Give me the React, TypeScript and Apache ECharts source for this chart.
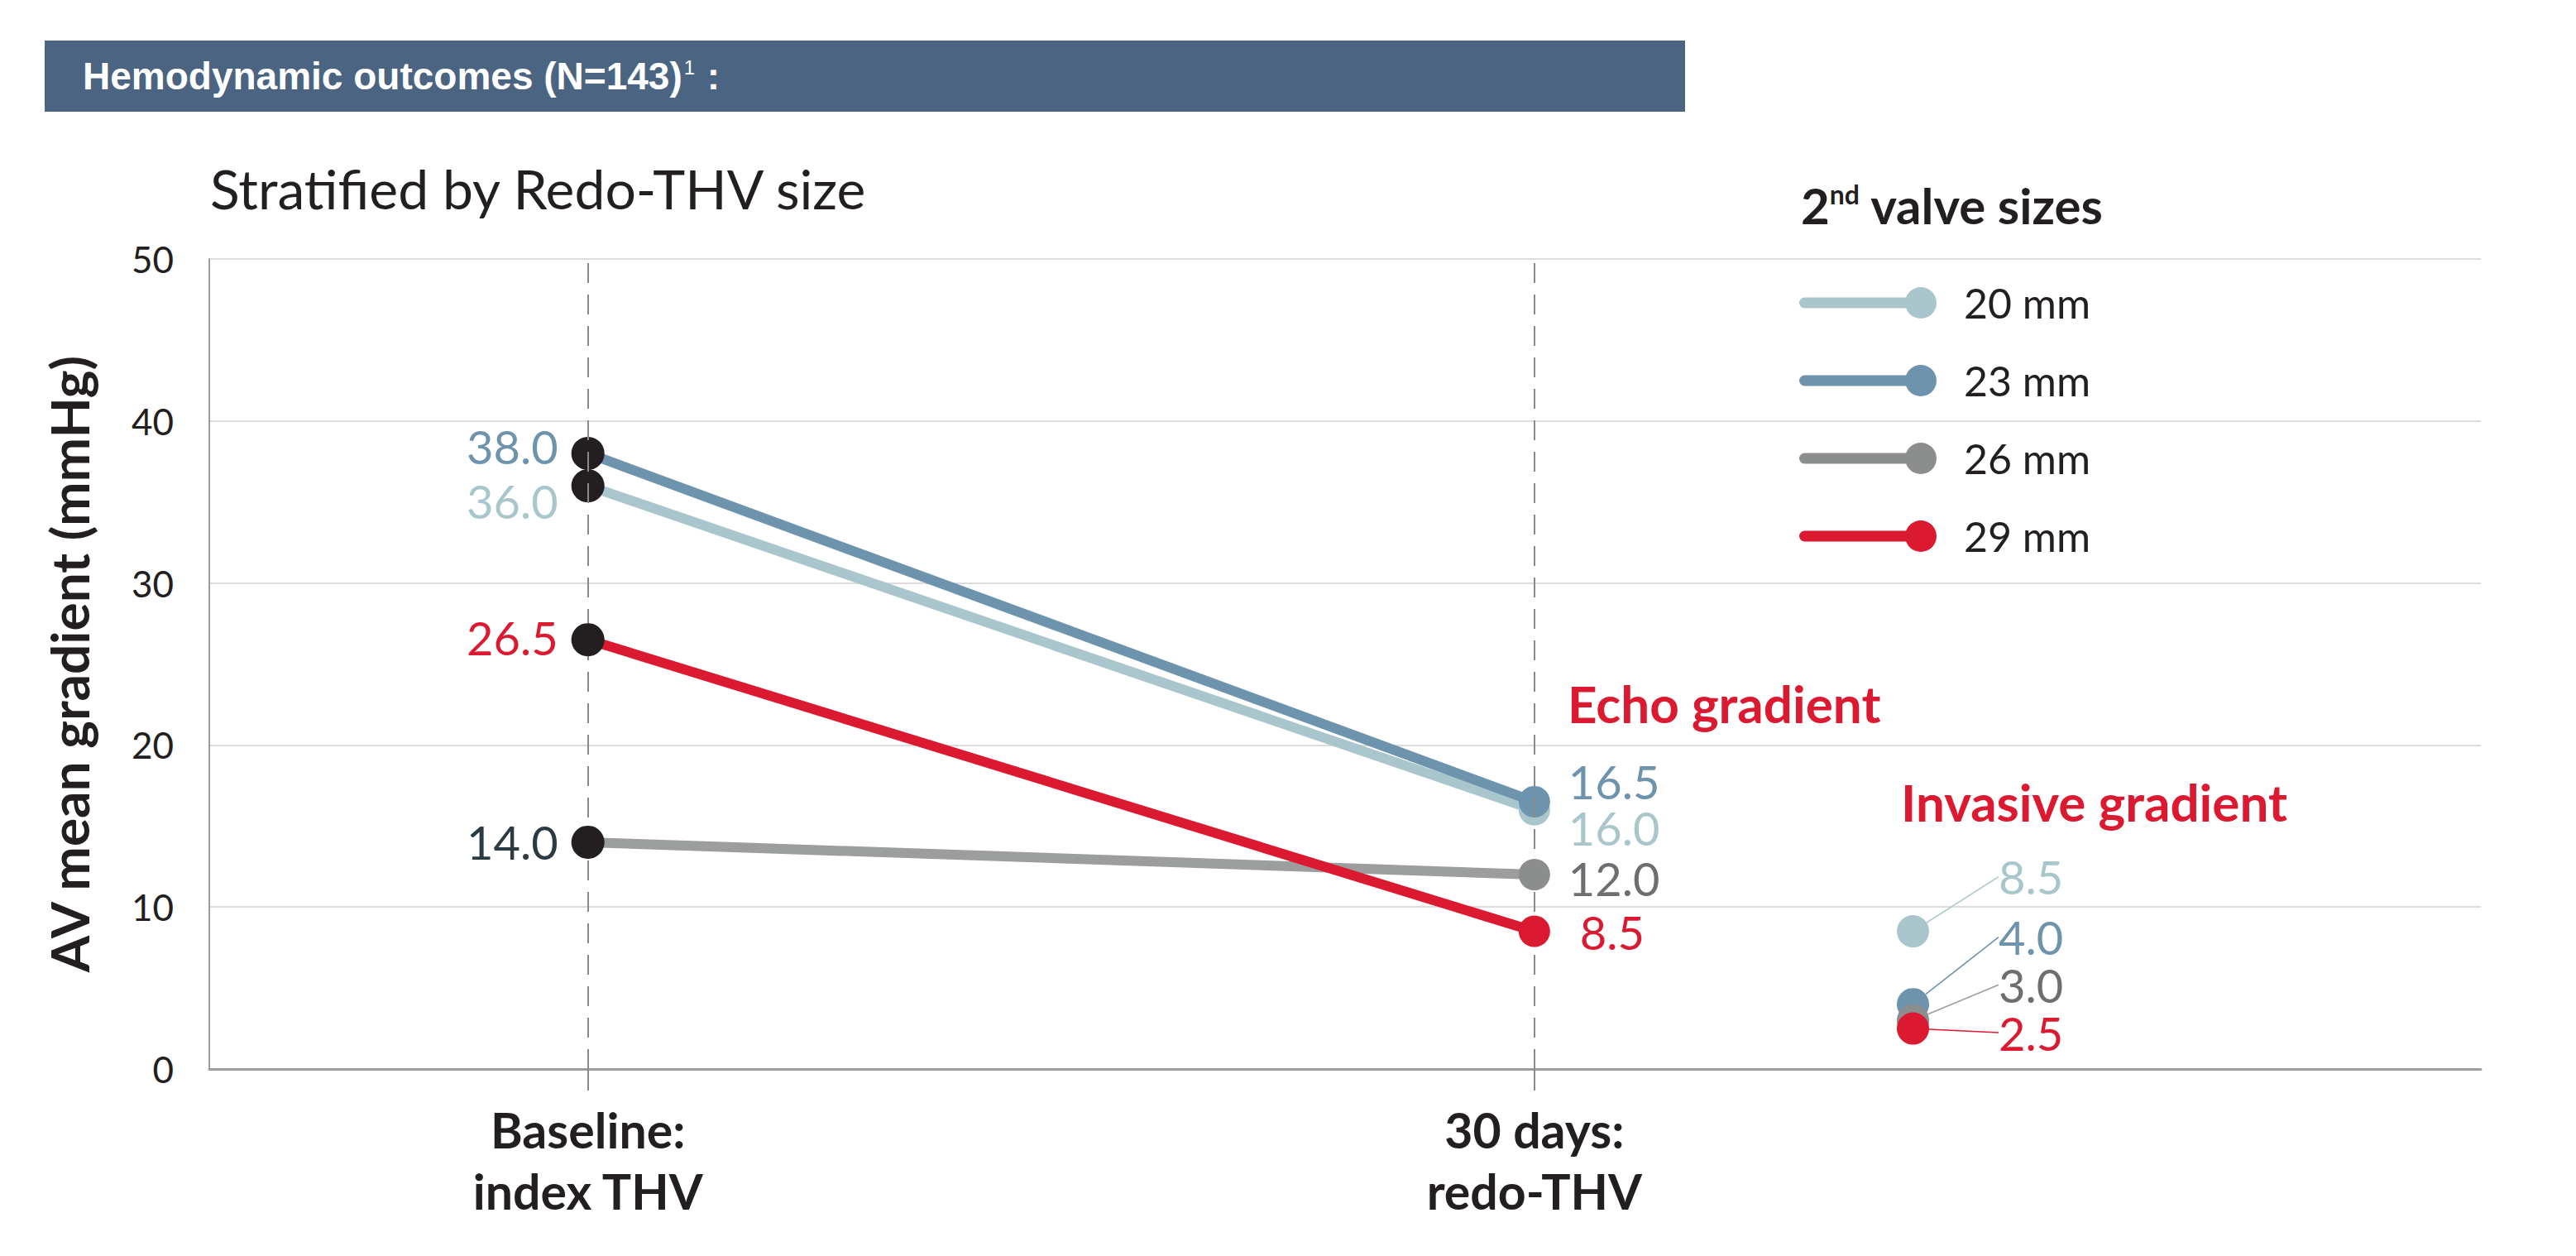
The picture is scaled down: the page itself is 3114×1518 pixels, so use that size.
import React, { useEffect, useRef } from "react";
import * as echarts from "echarts";

const categories = ["Baseline:\nindex THV", "30 days:\nredo-THV"];
const categoryX = [1, 3.5];
const invasiveX = 4.5;
const sizes = ["20 mm", "23 mm", "26 mm", "29 mm"];
const baselineValues = [36.0, 38.0, 14.0, 26.5];
const day30Values = [16.0, 16.5, 12.0, 8.5];
const invasiveValues = [8.5, 4.0, 3.0, 2.5];
const yTicks = [0, 10, 20, 30, 40, 50];

const lineColors = ["#A9C6CC", "#6E93AD", "#9C9E9D", "#DB1A31"];
const pointColors = ["#A9C6CC", "#6E93AD", "#8C8E8E", "#DB1A31"];
const baseLabelColors = ["#A9C6CC", "#6E93AD", "#2A3B43", "#DB1A31"];
const dayLabelColors = ["#A9C6CC", "#6E93AD", "#6D6E71", "#DB1A31"];
const baseLabelOffsets = [[0, 18], [0, -8], [0, 0], [0, -3]];
const dayLabelOffsets = [[0, 22], [0, -24], [0, 4], [14, 1]];
const invLayouts = [
  { dx: 80, dy: -66 },
  { dx: 80, dy: -81 },
  { dx: 80, dy: -43 },
  { dx: 80, dy: 5 },
];

const FONT = "Lato";
const DARK = "#231F20";

const ICON =
  "path://M6.5,12.5L147,12.5L147,25.5L6.5,25.5A6.5,6.5 0 0 1 6.5,12.5ZM147,0A19,19 0 1 1 147,38A19,19 0 1 1 147,0Z";

export default function App() {
  const ref = useRef<HTMLDivElement>(null);
  useEffect(() => {
    if (!ref.current) return;
    const chart = echarts.init(ref.current, null, { renderer: "svg" });
    const fmt = (p: any) => Number(p.value[1]).toFixed(1);

    const lineSeries = sizes.map((name, i) => ({
      name,
      type: "line",
      z: 3 + i,
      color: lineColors[i],
      symbol: "circle",
      symbolSize: 40,
      lineStyle: { width: 12, color: lineColors[i] },
      itemStyle: { color: pointColors[i] },
      label: {
        show: true,
        fontFamily: FONT,
        fontSize: 56,
        lineHeight: 46,
        formatter: fmt,
      },
      data: [
        {
          value: [categoryX[0], baselineValues[i]],
          itemStyle: { color: DARK },
          label: {
            position: "left",
            distance: 16,
            offset: baseLabelOffsets[i],
            color: baseLabelColors[i],
          },
        },
        {
          value: [categoryX[1], day30Values[i]],
          symbolSize: 38,
          itemStyle: { color: pointColors[i] },
          label: {
            position: "right",
            distance: 22,
            offset: dayLabelOffsets[i],
            color: dayLabelColors[i],
          },
        },
      ],
    }));

    const invSeries = sizes.map((name, i) => ({
      name,
      type: "scatter",
      z: 3 + i,
      symbol: "circle",
      symbolSize: 39,
      itemStyle: { color: pointColors[i], opacity: 1 },
      label: {
        show: true,
        position: "right",
        distance: 4,
        fontFamily: FONT,
        fontSize: 56,
        lineHeight: 46,
        color: dayLabelColors[i],
        formatter: fmt,
      },
      labelLayout: invLayouts[i],
      labelLine: { show: true, lineStyle: { color: lineColors[i], width: 1.6 } },
      data: [[invasiveX, invasiveValues[i]]],
    }));

    chart.setOption({
      animation: false,
      backgroundColor: "#ffffff",
      grid: { left: 253, right: 115, top: 313, bottom: 226, containLabel: false },
      legend: {
        orient: "vertical",
        left: 2170,
        top: 336,
        itemWidth: 166,
        itemHeight: 38,
        itemGap: 44,
        selectedMode: false,
        textStyle: {
          fontFamily: FONT,
          fontSize: 50,
          color: DARK,
          padding: [0, 0, 0, 28],
        },
        data: sizes.map((s) => ({ name: s, icon: ICON })),
      },
      xAxis: {
        type: "value",
        min: 0,
        max: 6,
        axisLine: { show: true, lineStyle: { color: "#9d9d9d", width: 3 } },
        axisTick: {
          show: true,
          customValues: categoryX,
          length: 26,
          lineStyle: { color: "#8a8a8a", width: 2 },
        },
        axisLabel: {
          customValues: categoryX,
          formatter: (v: number) => categories[categoryX.indexOf(v)] ?? "",
          fontFamily: FONT,
          fontWeight: "bold",
          fontSize: 59,
          lineHeight: 74,
          color: DARK,
          margin: 36,
        },
        splitLine: { show: false },
      },
      yAxis: {
        type: "value",
        min: yTicks[0],
        max: yTicks[yTicks.length - 1],
        interval: 10,
        name: "AV mean gradient (mmHg)",
        nameLocation: "middle",
        nameGap: 138,
        nameTextStyle: {
          fontFamily: FONT,
          fontWeight: "bold",
          fontSize: 64,
          color: DARK,
        },
        axisLine: { show: true, lineStyle: { color: "#9d9d9d", width: 2 } },
        axisTick: { show: false },
        axisLabel: {
          fontFamily: FONT,
          fontSize: 44,
          color: DARK,
          margin: 43,
          padding: [36, 0, 0, 0],
        },
        splitLine: { lineStyle: { color: "#dcdcdc", width: 2 } },
      },
      graphic: [
        {
          type: "rect",
          shape: { x: 54, y: 49, width: 1983, height: 86 },
          style: { fill: "#4A6481" },
        },
        {
          type: "text",
          x: 100,
          y: 92,
          style: {
            text: "{a|Hemodynamic outcomes (N=143)}{s|1}{a| :}",
            verticalAlign: "middle",
            rich: {
              a: {
                fontFamily: "Liberation Sans",
                fontWeight: "bold",
                fontSize: 46,
                fill: "#ffffff",
              },
              s: {
                fontFamily: "Liberation Sans",
                fontSize: 24,
                fill: "#ffffff",
                verticalAlign: "top",
                padding: [0, 2, 0, 2],
              },
            },
          },
        },
        {
          type: "text",
          x: 254,
          y: 227,
          style: {
            text: "Stratified by Redo-THV size",
            fontFamily: FONT,
            fontSize: 66,
            fill: DARK,
            verticalAlign: "middle",
          },
        },
        {
          type: "text",
          x: 2177,
          y: 248,
          style: {
            text: "{a|2}{s|nd}{a| valve sizes}",
            verticalAlign: "middle",
            rich: {
              a: { fontFamily: FONT, fontWeight: "bold", fontSize: 60, fill: DARK },
              s: {
                fontFamily: FONT,
                fontWeight: "bold",
                fontSize: 32,
                fill: DARK,
                verticalAlign: "top",
              },
            },
          },
        },
        {
          type: "text",
          x: 1895,
          y: 850,
          style: {
            text: "Echo gradient",
            fontFamily: FONT,
            fontWeight: "bold",
            fontSize: 62,
            fill: "#DB1A31",
            verticalAlign: "middle",
          },
        },
        {
          type: "text",
          x: 2298,
          y: 969,
          style: {
            text: "Invasive gradient",
            fontFamily: FONT,
            fontWeight: "bold",
            fontSize: 62,
            fill: "#DB1A31",
            verticalAlign: "middle",
          },
        },
      ],
      series: [
        {
          name: "guides",
          type: "line",
          z: 1,
          data: [],
          markLine: {
            silent: true,
            symbol: ["none", "none"],
            label: { show: false },
            lineStyle: { type: [24, 14], color: "#8a8a8a", width: 2 },
            data: categoryX.map((x) => ({ xAxis: x })),
          },
        },
        ...lineSeries,
        ...invSeries,
      ],
    });
    return () => chart.dispose();
  }, []);

  return (
    <div
      ref={ref}
      style={{ position: "fixed", left: 0, top: 0, width: "3114px", height: "1518px" }}
    />
  );
}
